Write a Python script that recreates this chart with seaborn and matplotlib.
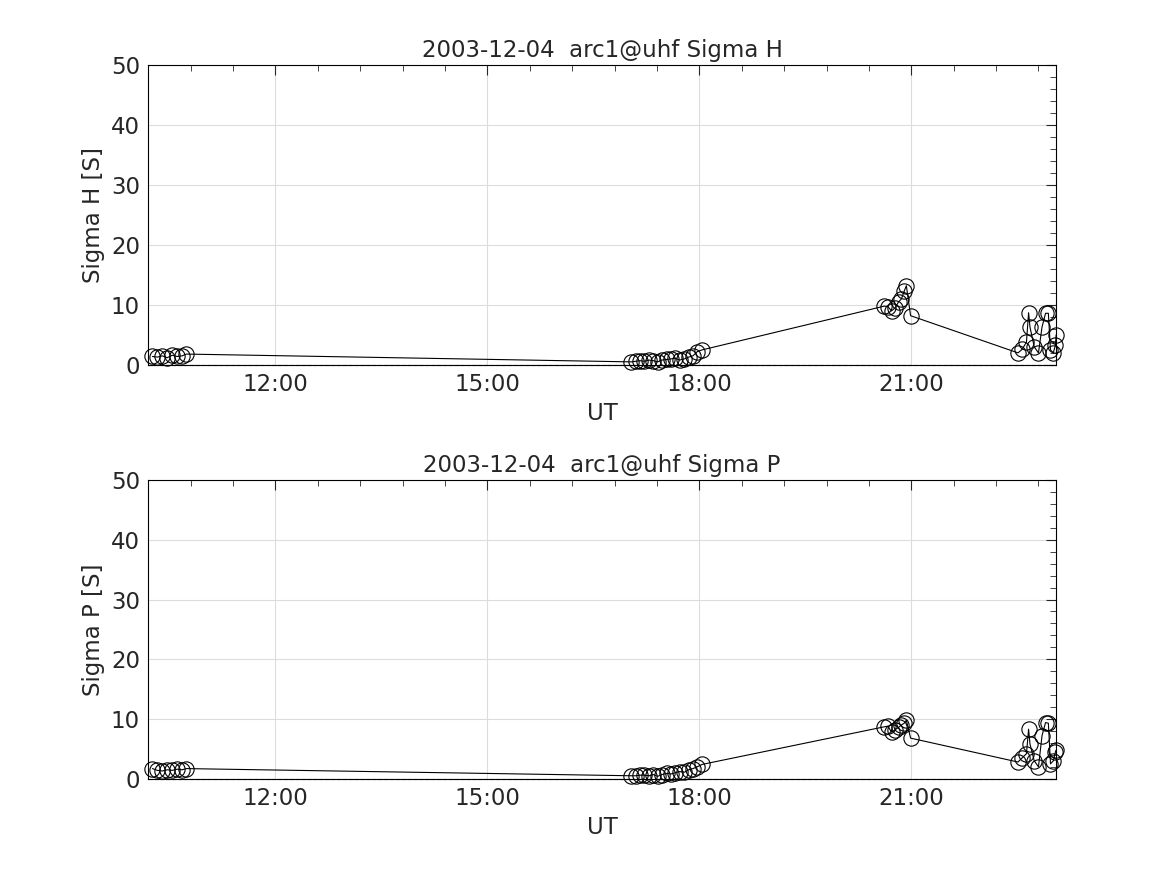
#!/usr/bin/env python3
# Height-integrated Hall / Pedersen conductances for one EISCAT day
import pandas as pd
import matplotlib.pyplot as plt
import seaborn as sns
from matplotlib.ticker import MultipleLocator, FuncFormatter

# UT in decimal hours
ut = [10.26, 10.33, 10.40, 10.47, 10.54, 10.61, 10.68, 10.74,
      17.04, 17.10, 17.16, 17.22, 17.29, 17.35, 17.41, 17.47, 17.54,
      17.60, 17.66, 17.72, 17.79, 17.85, 17.91, 17.97, 18.04,
      20.62, 20.67, 20.72, 20.77, 20.82, 20.86, 20.90, 20.93, 20.99,
      22.51, 22.57, 22.63, 22.66, 22.68, 22.74, 22.80, 22.85, 22.90,
      22.94, 22.97, 23.01, 23.04, 23.05]

sigma_h = [1.4, 1.3, 1.5, 1.2, 1.6, 1.4, 1.5, 1.8,
           0.5, 0.6, 0.7, 0.6, 0.8, 0.7, 0.5, 0.8, 0.9,
           1.0, 1.1, 0.8, 1.0, 1.3, 1.5, 2.2, 2.5,
           9.8, 9.7, 9.0, 9.5, 10.5, 11.0, 12.3, 13.2, 8.2,
           2.0, 2.6, 3.8, 8.7, 6.3, 3.0, 2.0, 6.3, 8.6,
           8.6, 2.5, 2.0, 3.3, 5.0]

sigma_p = [1.7, 1.4, 1.3, 1.5, 1.4, 1.6, 1.5, 1.7,
           0.5, 0.5, 0.6, 0.6, 0.5, 0.7, 0.4, 0.7, 0.9,
           0.8, 1.0, 1.2, 1.1, 1.5, 1.7, 2.0, 2.4,
           8.7, 8.8, 7.8, 8.2, 8.6, 9.0, 9.3, 9.8, 6.8,
           2.8, 3.5, 4.2, 8.3, 5.8, 3.0, 2.0, 7.2, 9.4,
           9.3, 2.5, 3.0, 4.5, 4.8]

date_str = "2003-12-04"
site = "arc1@uhf"
xticks = [12, 15, 18, 21]


def hhmm(x, pos=None):
    h = int(round(x * 60)) // 60
    m = int(round(x * 60)) % 60
    return f"{h:02d}:{m:02d}"


def main():
    sns.set_style("white")
    plt.rcParams["font.family"] = ["DejaVu Sans"]
    plt.rcParams["text.color"] = "#262626"
    plt.rcParams["axes.labelcolor"] = "#262626"
    plt.rcParams["xtick.color"] = "#262626"
    plt.rcParams["ytick.color"] = "#262626"

    df = pd.DataFrame({"ut": ut, "Sigma H": sigma_h, "Sigma P": sigma_p})

    fig = plt.figure(figsize=(11.67, 8.75), dpi=100)
    boxes = [[0.127, 0.583, 0.778, 0.3427], [0.127, 0.110, 0.778, 0.3414]]

    for box, col in zip(boxes, ["Sigma H", "Sigma P"]):
        ax = fig.add_axes(box)
        sns.lineplot(data=df, x="ut", y=col, ax=ax, sort=False, color="k",
                     linewidth=0.8, marker="o", markersize=11,
                     markerfacecolor="none", markeredgecolor="k",
                     markeredgewidth=0.8, clip_on=False)
        ax.axhline(0, color="k", ls="--", lw=0.8, clip_on=False)
        ax.set_xlim(10.2, 23.05)
        ax.set_ylim(0, 50)
        ax.set_xticks(xticks)
        ax.xaxis.set_major_formatter(FuncFormatter(hhmm))
        ax.xaxis.set_minor_locator(MultipleLocator(0.6))
        ax.yaxis.set_major_locator(MultipleLocator(10))
        ax.yaxis.set_minor_locator(MultipleLocator(2))
        ax.grid(True, which="major", color="#dcdcdc", lw=0.8)
        ax.tick_params(which="both", direction="in", top=True, right=True,
                       labelsize=16.5, pad=6)
        ax.tick_params(which="major", length=7, width=0.8)
        ax.tick_params(which="minor", length=4, width=0.6)
        for sp in ax.spines.values():
            sp.set_color("k")
            sp.set_linewidth(0.8)
        ax.set_title(f"{date_str}  {site} {col}", fontsize=16.5, pad=6)
        ax.set_xlabel("UT", fontsize=16.5, labelpad=4)
        ax.set_ylabel(f"{col} [S]", fontsize=16.5, labelpad=4)

    fig.savefig("out.png", dpi=100)
    plt.close(fig)


if __name__ == "__main__":
    main()
